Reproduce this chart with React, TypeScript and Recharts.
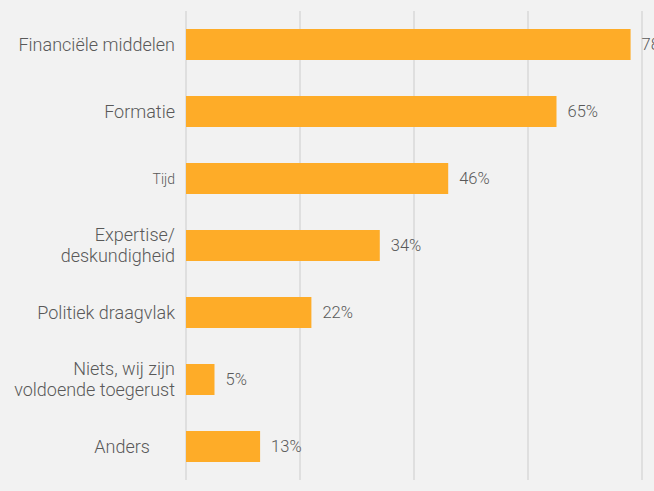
import React from "react";
import { BarChart, Bar, XAxis, YAxis, CartesianGrid, LabelList } from "recharts";

const categories = [
  "Financiële middelen",
  "Formatie",
  "Tijd",
  "Expertise/\ndeskundigheid",
  "Politiek draagvlak",
  "Niets, wij zijn\nvoldoende toegerust",
  "Anders",
];
const values = [78, 65, 46, 34, 22, 5, 13];
const xTicks = [0, 20, 40, 60, 80];

const data = categories.map((name, i) => ({ name, value: values[i] }));

const labelFontSize: Record<string, number> = { Tijd: 14 };
const labelShift: Record<string, number> = { Anders: 25 };

const CategoryTick = (props: any) => {
  const { x, y, payload } = props;
  const label: string = payload.value;
  const lines = label.split("\n");
  const fs = labelFontSize[label] ?? 18;
  const tx = x - 5 - (labelShift[label] ?? 0);
  const lh = 21;
  const start = -((lines.length - 1) * lh) / 2;
  return (
    <text
      x={tx}
      y={y}
      textAnchor="end"
      fill="#595959"
      fontSize={fs}
      fontWeight={300}
      fontFamily="Roboto, sans-serif"
    >
      {lines.map((l, i) => (
        <tspan key={i} x={tx} y={y + start + i * lh} dy="0.36em">
          {l}
        </tspan>
      ))}
    </text>
  );
};

export default function App() {
  return (
    <div style={{ position: "absolute", left: 0, top: 0, width: 654, height: 491, background: "#f2f2f2" }}>
      <BarChart
        width={654}
        height={491}
        data={data}
        layout="vertical"
        margin={{ top: 11, right: 12, bottom: 11, left: 0 }}
        barCategoryGap="54%"
      >
        <CartesianGrid horizontal={false} vertical stroke="#d9d9d9" strokeWidth={1.5} />
        <XAxis type="number" domain={[0, 80]} ticks={xTicks} hide />
        <YAxis
          type="category"
          dataKey="name"
          width={186}
          axisLine={false}
          tickLine={false}
          tickMargin={0}
          tick={<CategoryTick />}
          interval={0}
        />
        <Bar dataKey="value" fill="#FEAC28" barSize={31} isAnimationActive={false}>
          <LabelList
            dataKey="value"
            position="right"
            offset={11}
            formatter={(v: any) => `${v}%`}
            fill="#595959"
            fontSize={16.5}
            fontWeight={300}
            fontFamily="Roboto, sans-serif"
          />
        </Bar>
      </BarChart>
    </div>
  );
}
